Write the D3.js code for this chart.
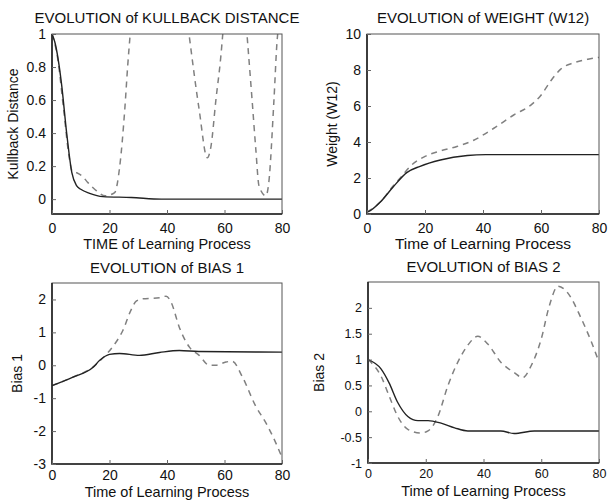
<!DOCTYPE html>
<html>
<head>
<meta charset="utf-8">
<script src="https://cdn.jsdelivr.net/npm/d3@7"></script>
<style>
	body { margin: 0; background: #fff; }
	svg text { font-family: 'Liberation Sans', Arial, sans-serif; fill: #111; }
</style>
</head>
<body>
<svg id="chart" width="608" height="500"></svg>
<script>
const TIME_TICKS = [0, 20, 40, 60, 80];

// [time, value]; null = off the top of the plot
const kullSolid = [[0, 1], [1, 0.95], [3.3, 0.7], [5.1, 0.4], [6.9, 0.16], [8.6, 0.08], [10, 0.06], [13.1, 0.035], [17.7, 0.015], [27.6, 0.01], [38, 0], [80, 0]];
const kullDash = [[0, 1], [2, 0.85], [4, 0.55], [6, 0.25], [7, 0.17], [8.6, 0.16], [10.5, 0.14], [12.5, 0.1], [15.5, 0.05], [18.5, 0.02], [21.8, 0.04], [23.5, 0.19], [25.3, 0.54], [26.3, 0.8], [27.2, 1], [30, null],
	[47.8, 0.98], [51.2, 0.54], [54, 0.25], [55.3, 0.32], [57, 0.6], [58.7, 0.86], [59.4, 1], [62, null],
	[67.9, 0.98], [69.6, 0.6], [70.9, 0.3], [72, 0.08], [74.4, 0.02], [75.4, 0.1], [77.2, 0.6], [78.3, 0.96], [78.5, 1]];
const kullTicks = [0, 0.2, 0.4, 0.6, 0.8, 1];

const weightSolid = [[0, 0.1], [1, 0.17], [4.5, 0.65], [9, 1.5], [13.7, 2.3], [18.3, 2.65], [25.3, 3.0], [34.6, 3.25], [41, 3.3], [60, 3.3], [80, 3.3]];
const weightDash = [[0, 0.1], [4.5, 0.65], [9, 1.55], [12, 2.1], [14.9, 2.65], [20, 3.2], [25.3, 3.5], [31, 3.75], [36.8, 4.1], [43.6, 4.75], [50.6, 5.5], [56.5, 6.05], [60, 6.6], [63.4, 7.4], [66.8, 8.05], [71.3, 8.4], [76.2, 8.6], [80, 8.7]];
const weightTicks = [0, 2, 4, 6, 8, 10];

const bias1Solid = [[0, -0.62], [7.3, -0.36], [14.3, -0.06], [16.6, 0.15], [20, 0.33], [23.5, 0.36], [30.4, 0.3], [37.4, 0.39], [44.3, 0.45], [51, 0.42], [80, 0.4]];
const bias1Dash = [[0, -0.62], [7.3, -0.36], [14.3, -0.05], [18, 0.25], [21, 0.55], [24.6, 1.05], [27.6, 1.7], [29.3, 1.95], [31.6, 2.02], [37.4, 2.05], [39.7, 2.1], [41.5, 1.9], [44.3, 1.15], [47.8, 0.55], [51.2, 0.3], [54.7, 0], [57, 0], [60.5, 0.1], [62.7, 0.12], [66.2, -0.35], [70.9, -1.25], [74.4, -1.75], [77.8, -2.35], [80, -2.8]];
const bias1Ticks = [-3, -2, -1, 0, 1, 2];

const bias2Solid = [[0, 1.0], [4.5, 0.82], [7.3, 0.55], [10.3, 0.17], [13.8, -0.1], [17.3, -0.18], [20.8, -0.18], [25.3, -0.23], [30, -0.32], [34.6, -0.38], [46, -0.38], [50.6, -0.43], [57.6, -0.38], [80, -0.38]];
const bias2Dash = [[0, 1.0], [4.5, 0.68], [7.3, 0.3], [10.3, -0.1], [13.8, -0.35], [18.3, -0.42], [20.8, -0.38], [24.2, -0.1], [27.7, 0.5], [31.1, 0.95], [34.6, 1.28], [38, 1.45], [41.5, 1.3], [46, 0.95], [50.6, 0.75], [53.6, 0.65], [56.5, 0.88], [60, 1.4], [62.7, 2.02], [65.8, 2.42], [69.3, 2.28], [73.8, 1.8], [77.3, 1.35], [80, 0.95]];
const bias2Ticks = [-1, -0.5, 0, 0.5, 1, 1.5, 2];

const panels = [
	{ title: 'EVOLUTION of KULLBACK DISTANCE', xLabel: 'TIME of Learning Process', yLabel: 'Kullback Distance',
		solid: kullSolid, dash: kullDash, yTicks: kullTicks, yDomain: [-0.09, 1],
		left: 52, right: 282, top: 34, bottom: 214, tickFont: 14, labelFont: 14.5,
		tickPad: 9, labelGap: 35, titleGap: 11, yLabelGap: 34 },
	{ title: 'EVOLUTION of WEIGHT (W12)', xLabel: 'Time of Learning Process', yLabel: 'Weight (W12)',
		solid: weightSolid, dash: weightDash, yTicks: weightTicks, yDomain: [0, 10],
		left: 367, right: 599, top: 34, bottom: 214, tickFont: 14, labelFont: 15.5,
		tickPad: 9, labelGap: 35, titleGap: 11, yLabelGap: 30 },
	{ title: 'EVOLUTION of BIAS 1', xLabel: 'Time of Learning Process', yLabel: 'Bias 1',
		solid: bias1Solid, dash: bias1Dash, yTicks: bias1Ticks, yDomain: [-3, 2.5],
		left: 52, right: 282, top: 283, bottom: 464, tickFont: 14, labelFont: 14.5,
		tickPad: 6, labelGap: 33, titleGap: 10, yLabelGap: 30 },
	{ title: 'EVOLUTION of BIAS 2', xLabel: 'Time of Learning Process', yLabel: 'Bias 2',
		solid: bias2Solid, dash: bias2Dash, yTicks: bias2Ticks, yDomain: [-1, 2.5],
		left: 368, right: 599, top: 282, bottom: 463, tickFont: 12.5, labelFont: 14.5,
		tickPad: 6, labelGap: 33, titleGap: 10, yLabelGap: 44 }
];

const svg = d3.select('#chart');

function drawPanel(p, i) {
	const x = d3.scaleLinear().domain([0, 80]).range([p.left, p.right]);
	const y = d3.scaleLinear().domain(p.yDomain).range([p.bottom, p.top]);
	const g = svg.append('g').attr('class', `panel panel-${i}`);
	const midX = (p.left + p.right) / 2;
	const midY = (p.top + p.bottom) / 2;

	g.append('clipPath')
		.attr('id', `clip-${i}`)
		.append('rect')
		.attr('x', p.left)
		.attr('y', p.top)
		.attr('width', p.right - p.left)
		.attr('height', p.bottom - p.top);

	const line = d3.line()
		.defined(d => d[1] !== null)
		.x(d => x(d[0]))
		.y(d => y(d[1]))
		.curve(d3.curveMonotoneX);

	const plot = g.append('g').attr('clip-path', `url(#clip-${i})`);
	plot.append('path')
		.attr('d', line(p.dash))
		.attr('fill', 'none')
		.attr('stroke', '#808080')
		.attr('stroke-width', 1.5)
		.attr('stroke-dasharray', '6,5');
	plot.append('path')
		.attr('d', line(p.solid))
		.attr('fill', 'none')
		.attr('stroke', '#222')
		.attr('stroke-width', 1.4);

	// box
	g.append('rect')
		.attr('x', p.left)
		.attr('y', p.top)
		.attr('width', p.right - p.left)
		.attr('height', p.bottom - p.top)
		.attr('fill', 'none')
		.attr('stroke', '#555')
		.attr('stroke-width', 1);
	g.append('path')
		.attr('d', `M${p.left},${p.top}V${p.bottom}H${p.right}`)
		.attr('fill', 'none')
		.attr('stroke', '#222')
		.attr('stroke-width', 1.6);

	const xAxis = g.append('g')
		.attr('transform', `translate(0,${p.bottom})`)
		.call(d3.axisBottom(x).tickValues(TIME_TICKS).tickSize(-4).tickPadding(p.tickPad).tickFormat(d => String(d)));
	const yAxis = g.append('g')
		.attr('transform', `translate(${p.left},0)`)
		.call(d3.axisLeft(y).tickValues(p.yTicks).tickSize(-4).tickPadding(6).tickFormat(d => String(d)));
	[xAxis, yAxis].forEach(a => {
		a.select('.domain').remove();
		a.selectAll('line').attr('stroke', '#666');
		a.selectAll('text').style('font-size', `${p.tickFont}px`).attr('fill', '#111');
	});

	g.append('text')
		.attr('x', midX)
		.attr('y', p.top - p.titleGap)
		.attr('text-anchor', 'middle')
		.style('font-size', '15px')
		.text(p.title);
	g.append('text')
		.attr('x', midX)
		.attr('y', p.bottom + p.labelGap)
		.attr('text-anchor', 'middle')
		.style('font-size', `${p.labelFont}px`)
		.text(p.xLabel);
	g.append('text')
		.attr('transform', `translate(${p.left - p.yLabelGap},${midY}) rotate(-90)`)
		.attr('text-anchor', 'middle')
		.style('font-size', '14px')
		.text(p.yLabel);
}

panels.forEach(drawPanel);
</script>
</body>
</html>
